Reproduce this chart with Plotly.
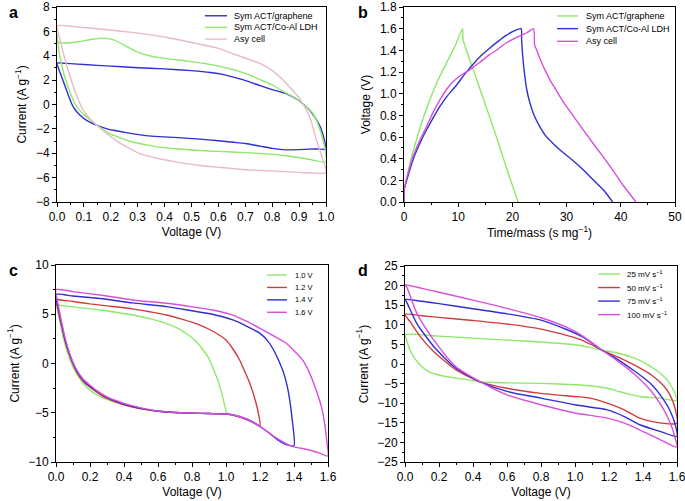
import plotly.graph_objects as go

# ---------------- Panel a: CV of three cells ----------------
a_names = ["Sym ACT/graphene", "Sym ACT/Co-Al LDH", "Asy cell"]
a_colors = ["#2f2fd2", "#8ee86a", "#e6bcc4"]
a_graphene_v = [0, 0.05, 0.1, 0.2, 0.285, 0.4, 0.5, 0.57, 0.62, 0.66, 0.71, 0.755, 0.8, 0.854, 0.9, 0.94, 0.96, 0.98, 0.995, 1.0,
                0.97, 0.94, 0.9, 0.85, 0.8, 0.755, 0.7, 0.656, 0.6, 0.53, 0.45, 0.38, 0.33, 0.285, 0.23, 0.186, 0.15, 0.11, 0.08, 0.065, 0.056, 0.045, 0.03, 0.015, 0.005, 0]
a_graphene_i = [3.4, 3.35, 3.28, 3.15, 3.04, 2.92, 2.78, 2.63, 2.45, 2.22, 1.9, 1.55, 1.22, 0.86, 0.31, -0.5, -1.1, -1.9, -3.0, -3.65,
                -3.65, -3.66, -3.7, -3.72, -3.6, -3.42, -3.2, -3.1, -2.97, -2.84, -2.72, -2.64, -2.55, -2.41, -2.2, -2.0, -1.72, -1.3, -0.75, -0.35, 0, 0.6, 1.5, 2.4, 3.0, 3.4]
a_ldh_v = [0, 0.005, 0.03, 0.08, 0.13, 0.17, 0.21, 0.26, 0.3, 0.34, 0.38, 0.43, 0.48, 0.557, 0.6, 0.656, 0.7, 0.755, 0.8, 0.854, 0.9, 0.95, 0.97, 0.99, 1.0,
           0.95, 0.9, 0.85, 0.78, 0.7, 0.6, 0.53, 0.45, 0.38, 0.33, 0.285, 0.23, 0.186, 0.15, 0.12, 0.1, 0.085, 0.068, 0.05, 0.035, 0.02, 0.008, 0]
a_ldh_i = [5.7, 5.1, 5.05, 5.15, 5.35, 5.45, 5.3, 4.75, 4.3, 4.02, 3.85, 3.7, 3.58, 3.33, 3.15, 2.85, 2.55, 2.05, 1.6, 0.9, 0.31, -0.7, -1.6, -3.0, -4.7,
           -4.55, -4.35, -4.2, -4.05, -3.95, -3.85, -3.78, -3.65, -3.5, -3.3, -3.1, -2.7, -2.28, -1.72, -1.2, -0.85, -0.5, 0, 0.9, 1.8, 3.0, 4.3, 5.7]
a_asy_v = [0, 0.08, 0.16, 0.285, 0.41, 0.53, 0.6, 0.656, 0.755, 0.8, 0.84, 0.87, 0.9, 0.94, 0.965, 0.985, 1.0,
           0.95, 0.9, 0.8, 0.7, 0.6, 0.53, 0.45, 0.38, 0.31, 0.26, 0.22, 0.186, 0.15, 0.12, 0.1, 0.087, 0.07, 0.05, 0.035, 0.02, 0.008, 0]
a_asy_i = [6.45, 6.35, 6.2, 5.9, 5.5, 4.95, 4.6, 4.15, 3.35, 2.8, 2.0, 1.3, 0.55, -1.05, -2.96, -4.3, -5.6,
           -5.62, -5.57, -5.45, -5.35, -5.15, -5.0, -4.75, -4.45, -4.05, -3.5, -2.96, -2.4, -1.75, -1.1, -0.55, 0, 0.9, 2.2, 3.3, 4.5, 5.6, 6.45]

# ---------------- Panel b: galvanostatic charge/discharge ----------------
b_names = ["Sym ACT/graphene", "Sym ACT/Co-Al LDH", "Asy cell"]
b_colors = ["#8ee86a", "#2f2fd2", "#d84fdc"]
b_graphene_t = [0, 0.1, 0.43, 1.2, 2.28, 3.5, 4.74, 5.7, 6.6, 7.5, 8.4, 9.6, 10.8, 10.9, 13.0, 15.0, 17.0, 19.0, 21.05]
b_graphene_v = [0, 0.12, 0.2, 0.38, 0.57, 0.77, 0.94, 1.06, 1.16, 1.25, 1.34, 1.46, 1.6, 1.5, 1.19, 0.9, 0.61, 0.3, 0]
b_ldh_t = [0, 0.05, 0.5, 1.66, 3, 4.1, 5.3, 6.6, 8, 9.7, 11.2, 12.7, 14.2, 15.8, 17.3, 18.9, 20.3, 21.6,
           21.7, 21.9, 22.2, 22.6, 23.2, 24, 25, 26, 27.5, 29, 31, 33, 35, 37, 38.5]
b_ldh_v = [0, 0.12, 0.2, 0.39, 0.55, 0.66, 0.77, 0.88, 0.98, 1.08, 1.18, 1.27, 1.35, 1.42, 1.48, 1.54, 1.58, 1.6,
           1.5, 1.35, 1.2, 1.05, 0.92, 0.8, 0.7, 0.62, 0.54, 0.47, 0.39, 0.3, 0.2, 0.1, 0]
b_asy_t = [0, 0.05, 0.5, 1.66, 3, 4.1, 5.3, 6.6, 8, 9.05, 10.5, 12.1, 14, 15.8, 17.3, 18.9, 20.8, 22.6, 23.9,
           24.1, 24.5, 25.1, 26, 26.9, 28, 28.8, 30, 32, 34.9, 37, 39, 40.5, 42.8]
b_asy_v = [0, 0.12, 0.22, 0.42, 0.58, 0.69, 0.82, 0.94, 1.05, 1.11, 1.17, 1.22, 1.29, 1.36, 1.41, 1.47, 1.52, 1.56, 1.6,
           1.45, 1.4, 1.32, 1.22, 1.13, 1.04, 0.97, 0.88, 0.74, 0.54, 0.4, 0.26, 0.15, 0]

# ---------------- Panel c: CV at different voltage windows ----------------
c_names = ["1.0 V", "1.2 V", "1.4 V", "1.6 V"]
c_colors = ["#8ee86a", "#d03c3c", "#2f2fd2", "#d84fdc"]
c_10_v = [0, 0.01, 0.05, 0.15, 0.26, 0.35, 0.45, 0.55, 0.65, 0.72, 0.77, 0.82, 0.866, 0.9, 0.92, 0.95, 0.97, 0.99, 1.0,
          0.9, 0.85, 0.75, 0.65, 0.55, 0.45, 0.35, 0.26, 0.2, 0.16, 0.12, 0.082, 0.055, 0.033, 0.015, 0]
c_10_i = [6.3, 5.95, 5.85, 5.65, 5.43, 5.2, 4.92, 4.55, 4.05, 3.55, 3.0, 2.3, 1.37, 0.5, -0.3, -1.6, -2.7, -4.1, -5.06,
          -5.08, -5.06, -5.02, -4.9, -4.7, -4.38, -3.95, -3.37, -2.7, -2.0, -1.0, 0.35, 1.8, 3.4, 4.9, 6.3]
c_12_v = [0, 0.01, 0.1, 0.2, 0.3, 0.45, 0.55, 0.65, 0.75, 0.846, 0.92, 1.0, 1.04, 1.08, 1.11, 1.14, 1.17, 1.19, 1.2,
          1.16, 1.12, 1.08, 1.04, 1.0, 0.9, 0.8, 0.7, 0.6, 0.5, 0.4, 0.3, 0.24, 0.2, 0.16, 0.12, 0.085, 0.055, 0.033, 0.015, 0]
c_12_i = [6.6, 6.5, 6.3, 6.05, 5.85, 5.55, 5.25, 4.92, 4.45, 3.9, 3.3, 2.39, 1.5, 0.36, -0.8, -2.0, -3.6, -5.0, -6.3,
          -6.0, -5.7, -5.45, -5.23, -5.13, -5.08, -5.04, -4.98, -4.85, -4.6, -4.2, -3.55, -2.9, -2.4, -1.8, -0.8, 0.6, 2.2, 3.8, 5.2, 6.6]
c_14_v = [0, 0.1, 0.26, 0.45, 0.65, 0.8, 0.92, 1.04, 1.12, 1.2, 1.25, 1.28, 1.31, 1.34, 1.36, 1.375, 1.39, 1.4,
          1.35, 1.3, 1.25, 1.2, 1.15, 1.1, 1.05, 1.0, 0.9, 0.8, 0.7, 0.6, 0.5, 0.4, 0.3, 0.24, 0.2, 0.16, 0.12, 0.085, 0.055, 0.033, 0.015, 0]
c_14_i = [7.0, 6.85, 6.6, 6.15, 5.77, 5.35, 5.0, 4.42, 3.8, 3.06, 2.2, 1.37, 0.3, -1.0, -2.3, -3.71, -5.8, -8.35,
          -8.2, -7.7, -7.0, -6.4, -5.85, -5.5, -5.25, -5.13, -5.08, -5.04, -4.98, -4.85, -4.55, -4.12, -3.45, -2.8, -2.3, -1.7, -0.7, 0.7, 2.3, 4.0, 5.5, 7.0]
c_16_v = [0, 0.1, 0.26, 0.45, 0.65, 0.8, 0.92, 1.04, 1.12, 1.2, 1.28, 1.355, 1.4, 1.45, 1.49, 1.53, 1.56, 1.58, 1.595, 1.6,
          1.55, 1.49, 1.44, 1.394, 1.35, 1.3, 1.25, 1.2, 1.15, 1.11, 1.05, 1.0, 0.9, 0.8, 0.7, 0.6, 0.5, 0.4, 0.3, 0.24, 0.2, 0.16, 0.12, 0.085, 0.055, 0.033, 0.015, 0]
c_16_i = [7.5, 7.3, 6.95, 6.45, 6.11, 5.75, 5.43, 4.92, 4.3, 3.57, 2.8, 2.05, 1.3, 0.36, -0.9, -2.69, -4.3, -6.07, -8.2, -9.4,
          -9.1, -8.78, -8.6, -8.44, -8.1, -7.6, -7.0, -6.41, -5.9, -5.57, -5.25, -5.13, -5.08, -5.04, -4.98, -4.83, -4.5, -4.05, -3.4, -2.75, -2.2, -1.6, -0.6, 0.8, 2.5, 4.2, 5.8, 7.5]

# ---------------- Panel d: CV at different scan rates ----------------
d_names = ["25 mV s<sup>−1</sup>", "50 mV s<sup>−1</sup>", "75 mV s<sup>−1</sup>", "100 mV s<sup>−1</sup>"]
d_colors = ["#8ee86a", "#d03c3c", "#2f2fd2", "#d84fdc"]
d_25_v = [0, 0.2, 0.4, 0.6, 0.8, 1.0, 1.1, 1.16, 1.25, 1.35, 1.43, 1.5, 1.55, 1.58, 1.6,
          1.5, 1.38, 1.3, 1.25, 1.19, 1.1, 1.0, 0.8, 0.6, 0.45, 0.4, 0.3, 0.2, 0.15, 0.11, 0.08, 0.05, 0.025, 0.01, 0]
d_25_i = [7.5, 7.1, 6.6, 6.1, 5.6, 4.9, 4.1, 3.5, 2.8, 1.5, -0.2, -2.3, -4.5, -6.8, -9.3,
          -8.7, -8.3, -7.5, -6.9, -6.2, -5.6, -5.3, -4.95, -4.8, -4.6, -4.2, -3.6, -2.8, -2.2, -1.1, 0.2, 1.86, 4.0, 6.1, 7.5]
d_50_v = [0, 0.1, 0.2, 0.4, 0.6, 0.8, 0.95, 1.05, 1.16, 1.25, 1.35, 1.45, 1.52, 1.56, 1.59, 1.6,
          1.48, 1.38, 1.29, 1.19, 1.09, 1.0, 0.8, 0.6, 0.45, 0.3, 0.17, 0.09, 0.03, 0]
d_50_i = [12.7, 12.3, 11.9, 11.1, 10.2, 8.9, 7.3, 5.9, 3.5, 1.8, -0.3, -2.8, -5.5, -8.0, -11.5, -15.1,
          -14.9, -13.8, -11.7, -10.0, -8.7, -8.3, -7.5, -6.2, -4.7, -1.5, 3.1, 7.0, 10.8, 12.7]
d_75_v = [0, 0.1, 0.2, 0.4, 0.6, 0.8, 0.95, 1.05, 1.16, 1.25, 1.35, 1.45, 1.52, 1.56, 1.59, 1.6,
          1.5, 1.38, 1.29, 1.19, 1.0, 0.8, 0.6, 0.45, 0.3, 0.17, 0.07, 0.01, 0]
d_75_i = [16.5, 16.0, 15.4, 14.1, 12.8, 11.2, 8.8, 6.8, 3.5, 1.2, -1.8, -5.2, -9.0, -12.0, -15.5, -18.5,
          -17.2, -15.5, -13.4, -11.7, -10.4, -8.7, -7.0, -4.7, -1.1, 4.4, 10.3, 15.8, 16.5]
d_100_v = [0, 0.1, 0.2, 0.4, 0.6, 0.8, 0.95, 1.05, 1.16, 1.25, 1.35, 1.45, 1.52, 1.56, 1.59, 1.6,
           1.5, 1.38, 1.29, 1.19, 1.0, 0.8, 0.6, 0.45, 0.3, 0.17, 0.07, 0.01, 0]
d_100_i = [20.2, 19.3, 18.3, 16.3, 14.2, 11.8, 9.4, 7.0, 3.5, 0.8, -2.6, -7.0, -11.5, -15.0, -19.0, -21.2,
           -19.3, -16.8, -15.1, -13.8, -12.5, -10.4, -7.9, -4.7, -0.7, 6.1, 12.9, 19.7, 20.2]

# ---------------- Figure ----------------
FONT = "Liberation Sans, Arial, Helvetica, sans-serif"
fig = go.Figure()

panels = [
    ("x", "y", [(a_graphene_v, a_graphene_i), (a_ldh_v, a_ldh_i), (a_asy_v, a_asy_i)], a_names, a_colors),
    ("x2", "y2", [(b_graphene_t, b_graphene_v), (b_ldh_t, b_ldh_v), (b_asy_t, b_asy_v)], b_names, b_colors),
    ("x3", "y3", [(c_10_v, c_10_i), (c_12_v, c_12_i), (c_14_v, c_14_i), (c_16_v, c_16_i)], c_names, c_colors),
    ("x4", "y4", [(d_25_v, d_25_i), (d_50_v, d_50_i), (d_75_v, d_75_i), (d_100_v, d_100_i)], d_names, d_colors),
]

for xa, ya, series, names, colors in panels:
    for (xs, ys), nm, col in zip(series, names, colors):
        fig.add_trace(go.Scatter(x=xs, y=ys, mode="lines", name=nm, xaxis=xa, yaxis=ya,
                                 line=dict(color=col, width=1.4, shape="spline", smoothing=0.6),
                                 showlegend=False, hoverinfo="skip"))

# domains (paper coordinates) from the reference layout
W, H = 685, 501
dom = {
    "a": ((57, 326), (7, 202)),
    "b": ((404, 675), (7, 202)),
    "c": ((56, 328), (265, 462)),
    "d": ((405, 677), (266, 462)),
}

def xd(k):
    (x0, x1), _ = dom[k]
    return [x0 / W, x1 / W]

def yd(k):
    _, (y0, y1) = dom[k]
    return [1 - y1 / H, 1 - y0 / H]

def axis(domain, rng, dtick, minor, title, fmt=None, standoff=4):
    d = dict(domain=domain, range=rng, dtick=dtick, tick0=0, ticks="outside", ticklen=4, tickwidth=1,
             tickcolor="black", showline=True, linecolor="black", linewidth=1, mirror=True,
             showgrid=False, zeroline=False, automargin=False, ticklabeloverflow="allow",
             tickfont=dict(size=12, color="black", family=FONT),
             title=dict(text=title, font=dict(size=12, color="black", family=FONT), standoff=standoff),
             minor=dict(dtick=minor, ticks="outside", ticklen=2, tickwidth=1, tickcolor="black", showgrid=False))
    if fmt:
        d["tickformat"] = fmt
    return d

cur = "Current (A g<sup>−1</sup>)"
fig.update_layout(
    width=W, height=H, margin=dict(l=0, r=0, t=0, b=0),
    paper_bgcolor="white", plot_bgcolor="white",
    font=dict(family=FONT, color="black"),
    showlegend=False,
    xaxis=axis(xd("a"), [0, 1], 0.1, 0.05, "Voltage (V)", ".1f"),
    yaxis=axis(yd("a"), [-8, 8], 2, 1, cur, None, 6),
    xaxis2=dict(axis(xd("b"), [0, 50], 10, 5, "Time/mass (s mg<sup>−1</sup>)"), anchor="y2"),
    yaxis2=dict(axis(yd("b"), [0, 1.8], 0.2, 0.1, "Voltage (V)", ".1f", 6), anchor="x2"),
    xaxis3=dict(axis(xd("c"), [0, 1.6], 0.2, 0.1, "Voltage (V)", ".1f"), anchor="y3"),
    yaxis3=dict(axis(yd("c"), [-10, 10], 5, 2.5, cur, None, 6), anchor="x3"),
    xaxis4=dict(axis(xd("d"), [0, 1.6], 0.2, 0.1, "Voltage (V)", ".1f"), anchor="y4"),
    yaxis4=dict(axis(yd("d"), [-25, 25], 5, 2.5, cur, None, 6), anchor="x4"),
)

# hand-placed compact legends (keys as layout shapes, labels as text)
legend_specs = [
    ("x", "y", a_names, a_colors, (0.55, 0.632, 0.651), (0.955, 0.06), 9),
    ("x2", "y2", b_names, b_colors, (0.565, 0.642, 0.664), (0.954, 0.065), 9),
    ("x3", "y3", c_names, c_colors, (0.776, 0.849, 0.871), (0.949, 0.063), 7.5),
    ("x4", "y4", d_names, d_colors, (0.71, 0.79, 0.809), (0.959, 0.069), 8),
]
for xa, ya, names, colors, (lx0, lx1, tx), (ytop, step), fs in legend_specs:
    for i, (nm, col) in enumerate(zip(names, colors)):
        yy = ytop - i * step
        fig.add_shape(type="line", xref=f"{xa} domain", yref=f"{ya} domain",
                      x0=lx0, x1=lx1, y0=yy, y1=yy, line=dict(color=col, width=1.4))
        fig.add_annotation(xref=f"{xa} domain", yref=f"{ya} domain", x=tx, y=yy, text=nm,
                           showarrow=False, xanchor="left", yanchor="middle",
                           font=dict(size=fs, color="black", family=FONT))

# panel letters
for letter, px, py in [("a", 7, 2), ("b", 356, 2), ("c", 7, 260), ("d", 356, 260)]:
    fig.add_annotation(xref="paper", yref="paper", x=px / W, y=1 - py / H, text=f"<b>{letter}</b>",
                       showarrow=False, xanchor="left", yanchor="top",
                       font=dict(size=16, color="black", family=FONT))

js = """
document.body.style.margin='0';
document.body.style.overflow='hidden';
document.querySelectorAll('g.ytick text').forEach(function(t){
  if(getComputedStyle(t).display==='none'){ t.style.display='block'; }
});
"""
fig.write_html("out.html", config={"displayModeBar": False, "staticPlot": True}, post_script=js)
